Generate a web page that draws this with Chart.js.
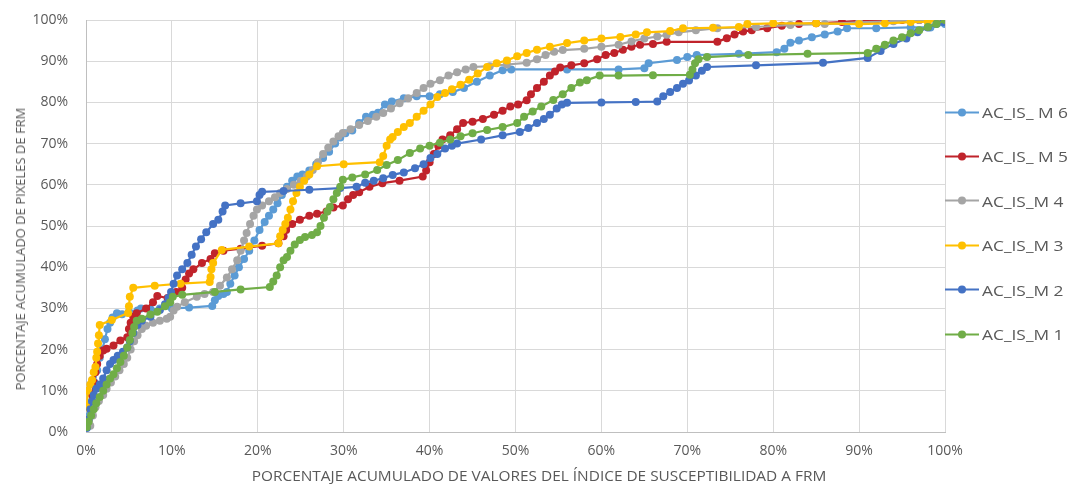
<!DOCTYPE html>
<html>
<head>
<meta charset="utf-8">
<script src="https://cdn.jsdelivr.net/npm/chart.js@4.4.1/dist/chart.umd.min.js"></script>
<style>
  html,body{margin:0;padding:0;background:#fff;}
  #wrap{position:relative;width:1076px;height:484px;font-family:"Open Sans",sans-serif;color:#595959;}
  #c{position:absolute;left:0;top:0;}
  .tit{position:absolute;white-space:nowrap;font-size:13px;transform:translate(-50%,-50%);}
  .tit.x{font-size:14px;transform:translate(-50%,-50%) scaleX(1.1);}
  .tit.y{transform:translate(-50%,-50%) rotate(-90deg);}
  .ley{position:absolute;left:945px;display:flex;align-items:center;font-size:14px;white-space:nowrap;transform:translateY(-50%);}
  .ley .ln{position:relative;width:34px;height:2px;margin-right:3px;flex:none;}
  .ley .ln i{position:absolute;left:13px;top:-3px;width:8px;height:8px;border-radius:50%;}
  .ley b{font-weight:normal;display:inline-block;transform:scaleX(1.24);transform-origin:left center;}
</style>
</head>
<body>
<div id="wrap">
  <canvas id="c" width="1076" height="484"></canvas>
  <div class="tit y" style="left:20px;top:249px">PORCENTAJE ACUMULADO DE PIXELES DE FRM</div>
  <div class="tit x" style="left:539px;top:475px">PORCENTAJE ACUMULADO DE VALORES DEL ÍNDICE DE SUSCEPTIBILIDAD A FRM</div>
  <div id="leyenda"></div>
</div>
<script>
/* ---- datos: [x % valores del índice, y % píxeles FRM] ---- */
const nombres = ['AC_IS_M 1','AC_IS_M 2','AC_IS_M 3','AC_IS_M 4','AC_IS_ M 5','AC_IS_ M 6'];
const colores = ['#70AD47','#4472C4','#FFC000','#A5A5A5','#C0232B','#5B9BD5'];

const serieM1 = [[0.1,1.2],[0.3,2.5],[0.6,4],[0.9,5.5],[1.2,7],[1.6,8.5],[2.0,10],[2.4,11.5],[2.8,13],[3.2,14],[3.6,15.5],[4.0,17],[4.4,18.5],[4.8,20.5],[5.1,22.3],[5.4,24],[5.6,25.5],[5.9,27],[6.5,27.5],[7.5,28.5],[8.3,29.2],[9.2,30.5],[9.8,31.5],[10.1,32.8],[11.2,33.3],[15,34],[18,34.6],[21.4,35.2],[21.8,36.5],[22.2,38],[22.6,40],[23.0,41.7],[23.4,42.5],[23.8,44],[24.3,45.5],[24.9,46.6],[25.5,47.3],[26.3,47.8],[26.9,48.5],[27.3,50],[27.7,52],[28.1,53.5],[28.4,54.6],[28.8,56.5],[29.2,58],[29.6,59.5],[29.9,61.2],[31,61.8],[32.5,62.5],[33.9,63.6],[35,64.8],[36.3,66],[37.7,67.7],[38.9,68.8],[40,69.5],[41.2,70.2],[42.4,71],[43.6,71.8],[45,72.5],[46.7,73.3],[48.5,74],[50.2,75],[51,76.5],[52,77.8],[53,79],[54.4,80.6],[55.5,82],[56.5,83.5],[57.5,84.8],[58.3,85.4],[59.8,86.5],[62,86.5],[66,86.6],[70.3,86.7],[70.6,88],[70.9,89.5],[71.3,90.5],[72.3,91],[77.1,91.5],[84,91.8],[91,92],[92,93],[93,94],[94,95],[95,95.8],[96,96.8],[97,97.5],[98,98.3],[99,99],[100,100]];
const serieM2 = [[0.1,1],[0.3,3],[0.5,5.5],[0.7,7.5],[0.9,9],[1.2,10.5],[1.6,11.5],[2.0,13],[2.4,15],[2.8,16.5],[3.2,17.5],[3.7,18.5],[4.3,19.5],[4.8,20.5],[5.1,22],[5.5,24],[6.0,26],[6.5,27],[7.5,28],[8.6,29.6],[9.2,31],[9.6,32.5],[9.9,34],[10.2,36],[10.6,38],[11.2,39.5],[11.8,41],[12.3,43],[12.8,45],[13.4,46.8],[14.0,48.5],[14.8,50.5],[15.4,51.5],[15.9,53.5],[16.2,55],[18,55.5],[19.9,56],[20.2,57.5],[20.5,58.3],[23,58.5],[26,58.8],[29.6,59.2],[31.5,59.5],[32.5,60.5],[33.5,61],[34.6,61.6],[35.7,62.4],[37,63],[38.3,64],[39.3,65],[40.1,66.5],[40.9,67.5],[41.8,68.8],[42.6,69.5],[43.2,70],[46,71],[48.5,72],[50.5,72.8],[51.5,73.8],[52.5,75],[53.3,76],[54,77],[54.8,78.5],[55.4,79.5],[56,79.9],[60,80],[64,80.1],[66.5,80.2],[67.2,81.5],[68,82.5],[68.8,83.5],[69.5,84.5],[70.2,85.3],[71,86.5],[71.7,87.7],[72.3,88.6],[78,89],[85.8,89.6],[91,90.8],[92.5,92.5],[94,94.2],[95.5,95.5],[96.8,97],[98,98.2],[99,99],[99.8,99.5]];
const serieM3 = [[0.1,6],[0.2,10],[0.5,11.5],[0.7,12.6],[0.9,14.5],[1.1,15.8],[1.2,18],[1.3,19.5],[1.4,21.5],[1.5,23.5],[1.6,26],[3,27.2],[4.9,28.9],[5.0,30.5],[5.1,32.8],[5.5,35],[8,35.5],[11,36],[14.4,36.4],[14.5,37.6],[14.6,39.5],[14.8,41],[15.8,44.2],[19,45],[22.4,45.8],[22.6,47.5],[22.9,49],[23.2,50.5],[23.5,52],[23.8,54],[24.1,56],[24.5,58],[24.9,59.5],[25.4,61],[26,62.5],[26.9,64.5],[30,65],[34.2,65.5],[34.6,67],[35.0,69.5],[35.4,71],[35.7,71.6],[36.3,72.8],[37.0,74],[37.7,75],[38.5,76.5],[39.3,78],[40.1,79.5],[40.9,81.3],[41.8,82.3],[42.6,83.2],[43.6,84.3],[44.6,85.5],[45.6,87],[46.7,88.6],[47.8,89.5],[49,90.2],[50.2,91.2],[51.3,92],[52.5,92.8],[54,93.5],[56,94.4],[58,95],[60,95.5],[62.2,95.9],[64,96.5],[65.3,97],[68,97.3],[69.5,98],[73,98.1],[76,98.3],[77,99],[80,99.2],[85,99.2],[90,99],[93,99.2],[96,99.5],[98,99.6],[100,100]];
const serieM4 = [[0.5,1.5],[0.8,4],[1.1,6],[1.5,7.5],[2.0,9],[2.4,10.5],[2.9,12],[3.4,13.5],[3.9,15],[4.4,16.5],[4.8,18],[5.2,20],[5.6,22],[6.0,23.5],[6.5,25],[7.0,25.8],[7.8,26.5],[8.6,27],[9.4,27.5],[9.8,28],[10.2,29.5],[10.6,30.4],[11.5,31.5],[12.9,32.8],[13.8,33.5],[14.8,34],[15.6,35.5],[16.4,37.5],[17.0,39.5],[17.6,41.7],[18.0,44],[18.4,46.5],[18.7,48.3],[19.1,50.5],[19.5,52.5],[19.9,54],[20.5,55],[21.3,56],[22.0,57],[22.6,58],[23.4,59],[24.2,60],[25.0,61],[25.7,62],[26.4,63.6],[27.0,65.5],[27.6,67.5],[28.2,69],[28.8,70.5],[29.4,71.8],[29.9,72.6],[30.8,73.5],[31.8,74.5],[32.8,75.5],[33.8,76.5],[34.6,77.4],[35.5,78.5],[36.5,79.8],[37.5,81],[38.5,82.3],[39.3,83.5],[40.1,84.5],[41.2,85.4],[42.2,86.5],[43.2,87.3],[44.2,88],[45.1,88.6],[47,88.8],[49,89.2],[51.3,89.6],[52.5,90.5],[53.5,91.5],[54.5,92.3],[55.5,92.7],[58,93],[60,93.5],[62,94],[63.5,94.8],[65,95.5],[66.5,96],[67.6,96.4],[69,97],[71,97.5],[73.5,98],[78,98.3],[82,98.8],[86,99],[90,99.4],[94,99.7],[97,100],[100,100]];
const serieM5 = [[0.3,3],[0.5,6],[0.7,9],[0.9,12],[1.1,14.5],[1.3,16.5],[1.6,18.5],[2.0,19.8],[2.4,20.2],[3.2,21],[4.0,22.2],[4.8,23],[5.0,25],[5.2,26.5],[5.5,28],[5.9,28.8],[7.0,30],[7.8,31.5],[8.3,33],[9.5,32.5],[10.5,34],[11.2,35],[11.6,37],[12.0,38.5],[12.5,39.5],[13.5,41],[14.5,42],[15.0,43.4],[16,44],[18,44.5],[20.5,45.2],[22.4,45.8],[23.0,47.5],[23.3,49],[24.0,50.5],[24.9,51.5],[26.0,52.5],[26.9,53],[28,53.5],[28.8,54.5],[29.9,55],[30.5,56.5],[31.1,57.5],[31.8,58.2],[33,59.5],[34.5,60.4],[36.5,61],[39.2,62],[39.6,63.5],[40,65.5],[40.5,67.5],[41,69.5],[41.5,71],[42.4,72],[43.2,73.5],[43.9,75],[45,75.3],[46.2,76],[47.5,77],[48.5,78],[49.4,79],[50.3,79.5],[51.3,80.5],[51.8,82],[52.5,83.5],[53.3,85],[54,86.5],[54.6,87.5],[55.2,88.5],[56.5,89],[58,89.5],[59.5,90.5],[60.5,91.5],[61.5,92],[62.5,92.8],[63.5,93.5],[64.5,94],[66,94.2],[67.6,94.7],[73.5,94.7],[74.6,95.6],[75.5,96.5],[76.5,97.2],[77.5,97.5],[79.3,98],[81,98.6],[83,99],[85,99.2],[88,99.5],[90,99.8],[92,100],[95,100],[97,100],[100,100]];
const serieM6 = [[0.2,1.5],[0.4,4],[0.6,7],[0.8,9],[1.0,12],[1.3,15],[1.6,18],[1.9,20],[2.2,22.5],[2.5,25],[2.8,26.5],[3.1,27.8],[3.6,28.8],[4.2,28.6],[5.0,29.2],[6.0,29.5],[6.4,30],[7.5,29.8],[8.6,30],[10,30],[12,30.2],[14.7,30.6],[15.0,32],[15.4,33],[16.0,33.5],[16.4,34],[16.8,36],[17.3,38],[17.8,40],[18.4,42],[19.0,44],[19.6,46.5],[20.2,49],[20.8,51],[21.3,52.5],[21.8,54],[22.3,55.5],[22.8,57.5],[23.4,59.5],[24.0,61],[24.6,62],[25.2,62.5],[26.0,63.5],[26.8,65],[27.6,66.5],[28.3,68],[29.0,70],[29.6,71.5],[30.2,72.5],[31.0,73.2],[31.8,75],[32.6,76.5],[33.4,77],[34.0,77.5],[34.8,79.5],[35.6,80.2],[37,81],[38.5,81.5],[40,81.5],[41.2,82],[42.7,82.5],[44,83.5],[45.5,85],[47,86.5],[48.5,87.8],[49.5,88],[56,88],[62,88],[65,88.3],[65.5,89.5],[68.8,90.3],[70,91],[71.1,91.5],[76,91.8],[80.4,92.2],[81.3,93],[82,94.5],[83,95],[84.5,95.8],[86,96.5],[87.5,97.2],[88.6,98],[92,98],[96,98.2],[98.3,98.2],[100,99]];
const series = [serieM1, serieM2, serieM3, serieM4, serieM5, serieM6];
const ticksPct = [0,10,20,30,40,50,60,70,80,90,100];

/* ---- gráfico ---- */
const gris = '#595959', rejilla = '#d9d9d9';
const fuente = {family:'"Open Sans", sans-serif', size:14};
// la separación de las etiquetas va en tickLength (marca invisible) para no inflar el margen superior
const ejePct = (sep, extra) => Object.assign({
  type:'linear', min:0, max:100,
  afterBuildTicks: s => { s.ticks = ticksPct.map(v => ({value:v})); },
  grid:{color:rejilla, lineWidth:1, drawTicks:true, tickLength:sep, tickColor:'rgba(0,0,0,0)'},
  border:{color:'#bfbfbf', width:1},
  ticks:{color:gris, font:fuente, padding:0, callback: v => v + '%'}
}, extra);

new Chart(document.getElementById('c'), {
  type:'scatter',
  data:{datasets: series.map((s,i) => ({
    label: nombres[i],
    data: s.map(p => ({x:p[0], y:p[1]})),
    showLine:true,
    borderColor: colores[i], backgroundColor: colores[i],
    borderWidth:2.2, pointRadius:4, pointBorderWidth:0, pointHoverRadius:4
  }))},
  options:{
    responsive:false, animation:false, devicePixelRatio:1,
    layout:{padding:{top:20, right:131, left:0, bottom:0}},
    plugins:{legend:{display:false}, tooltip:{enabled:false}},
    scales:{
      x: ejePct(11, {position:'bottom', afterFit: s => { s.height = 52; }}),
      y: ejePct(18, {position:'left', afterFit: s => { s.width = 86; }})
    }
  }
});

/* ---- leyenda (orden de Excel: M6 arriba) ---- */
const ley = document.getElementById('leyenda');
nombres.slice().reverse().forEach((n, k) => {
  const i = nombres.length - 1 - k;
  const d = document.createElement('div');
  d.className = 'ley';
  d.style.top = (112 + k * 44.4) + 'px';
  d.innerHTML = `<span class="ln" style="background:${colores[i]}"><i style="background:${colores[i]}"></i></span><b>${n}</b>`;
  ley.appendChild(d);
});
</script>
</body>
</html>
